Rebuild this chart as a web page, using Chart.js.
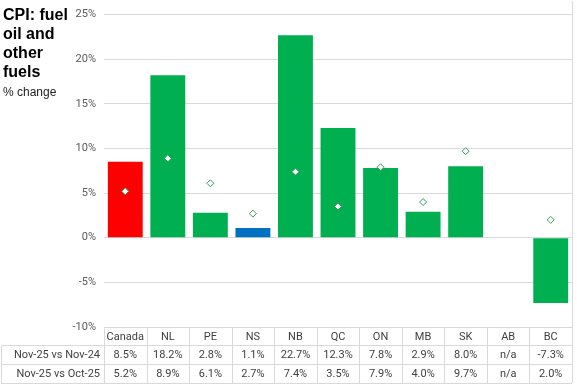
<!DOCTYPE html>
<html>
<head>
<meta charset="utf-8">
<script src="https://cdn.jsdelivr.net/npm/chart.js@4/dist/chart.umd.min.js"></script>
<style>
    html, body { margin: 0; padding: 0; background: #fff; }
    #wrap { position: relative; width: 577px; height: 385px; }
    #title {
        position: absolute; left: 3px; top: 5px;
        font: bold 16px "Liberation Sans", Arial, sans-serif;
        line-height: 19px; color: #000;
    }
    #sub {
        position: absolute; left: 3px; top: 85px;
        font: 12px "Liberation Sans", Arial, sans-serif; color: #222;
    }
</style>
</head>
<body>
<div id="wrap">
    <canvas id="chart" width="577" height="385"></canvas>
    <div id="title">CPI: fuel<br>oil and<br>other<br>fuels</div>
    <div id="sub">% change</div>
</div>
<script>
const categories = ['Canada', 'NL', 'PE', 'NS', 'NB', 'QC', 'ON', 'MB', 'SK', 'AB', 'BC'];
const yearChange = [8.5, 18.2, 2.8, 1.1, 22.7, 12.3, 7.8, 2.9, 8.0, null, -7.3];
const monthChange = [5.2, 8.9, 6.1, 2.7, 7.4, 3.5, 7.9, 4.0, 9.7, null, 2.0];
const rowLabels = ['Nov-25 vs Nov-24', 'Nov-25 vs Oct-25'];
const yTicks = [-10, -5, 0, 5, 10, 15, 20, 25];

const barColors = categories.map(c => c === 'Canada' ? '#ff0000' : (c === 'NS' ? '#0070c0' : '#00b050'));

function fmt(v) {
    return v === null ? 'n/a' : v.toFixed(1) + '%';
}

// data table under the plot, columns follow the x scale
const tablePlugin = {
    id: 'dataTable',
    afterDraw(chart) {
        const ctx = chart.ctx;
        const x = chart.scales.x;
        const area = chart.chartArea;
        const half = (x.getPixelForValue(1) - x.getPixelForValue(0)) / 2;
        const top = area.bottom, r1 = top + 18, r2 = r1 + 19, r3 = r2 + 19;

        ctx.save();
        ctx.strokeStyle = '#d9d9d9';
        ctx.lineWidth = 1;
        ctx.beginPath();
        ctx.moveTo(area.left, top + 0.5); ctx.lineTo(area.right, top + 0.5);
        [r1, r2, r3].forEach(y => { ctx.moveTo(1, y + 0.5); ctx.lineTo(area.right, y + 0.5); });
        ctx.moveTo(1.5, r1); ctx.lineTo(1.5, r3);
        for (let i = 0; i <= categories.length; i++) {
            const px = Math.round(x.getPixelForValue(i) - half) + 0.5;
            ctx.moveTo(px, top); ctx.lineTo(px, r3);
        }
        ctx.stroke();

        ctx.fillStyle = '#404040';
        ctx.font = '11px Roboto, sans-serif';
        ctx.textBaseline = 'middle';
        ctx.textAlign = 'center';
        categories.forEach((c, i) => {
            const cx = x.getPixelForValue(i);
            ctx.fillText(c, cx, (top + r1) / 2 + 1);
            ctx.fillText(fmt(yearChange[i]), cx, (r1 + r2) / 2 + 1);
            ctx.fillText(fmt(monthChange[i]), cx, (r2 + r3) / 2 + 1);
        });
        ctx.textAlign = 'right';
        ctx.fillText(rowLabels[0], area.left - 4, (r1 + r2) / 2 + 1);
        ctx.fillText(rowLabels[1], area.left - 4, (r2 + r3) / 2 + 1);

        // right border of the plot
        ctx.strokeStyle = '#d9d9d9';
        ctx.beginPath();
        ctx.moveTo(area.right + 0.5, 1); ctx.lineTo(area.right + 0.5, top);
        ctx.stroke();
        ctx.restore();
    }
};

new Chart(document.getElementById('chart').getContext('2d'), {
    data: {
        labels: categories,
        datasets: [
            {
                type: 'line',
                label: rowLabels[1],
                data: monthChange,
                showLine: false,
                pointStyle: 'rectRot',
                pointRadius: 3.5,
                pointBackgroundColor: '#ffffff',
                pointBorderColor: '#3a9a5e',
                pointBorderWidth: 1,
                order: 0
            },
            {
                type: 'bar',
                label: rowLabels[0],
                data: yearChange,
                backgroundColor: barColors,
                categoryPercentage: 1,
                barPercentage: 0.82,
                order: 1
            }
        ]
    },
    options: {
        responsive: false,
        animation: false,
        layout: { padding: { left: 0, top: 8, right: 2, bottom: 58 } },
        scales: {
            x: { display: false, offset: true, grid: { display: false } },
            y: {
                min: -10, max: 25,
                afterFit: s => { s.width = 104; },
                afterBuildTicks: s => { s.ticks = yTicks.map(v => ({ value: v })); },
                ticks: { color: '#595959', font: { family: 'Roboto', size: 11 }, padding: 8, callback: v => v + '%' },
                grid: { color: '#d9d9d9', drawTicks: false },
                border: { display: false }
            }
        },
        plugins: { legend: { display: false }, tooltip: { enabled: false } }
    },
    plugins: [tablePlugin]
});
</script>
</body>
</html>
